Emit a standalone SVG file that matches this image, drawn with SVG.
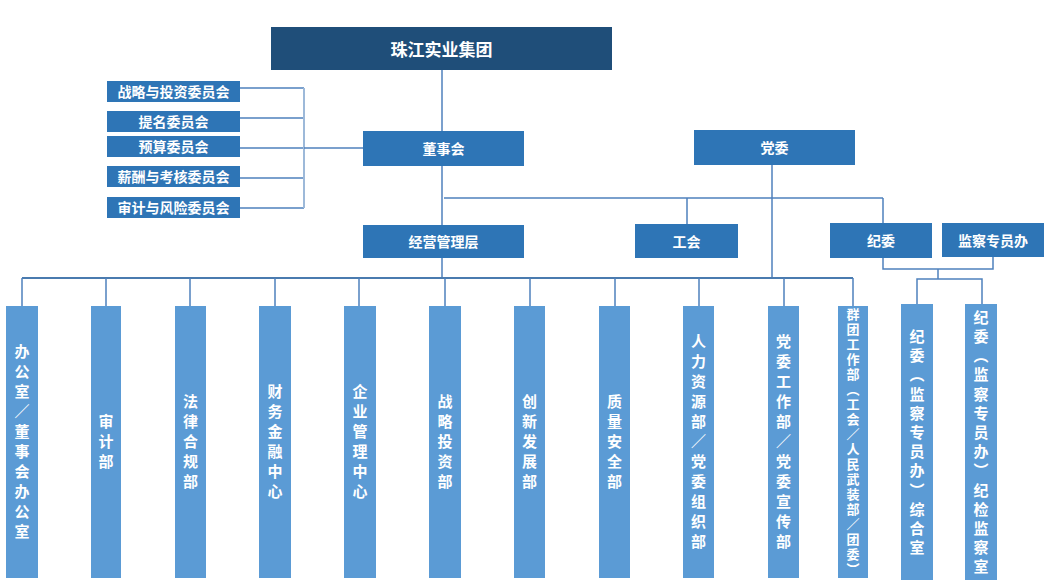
<svg xmlns="http://www.w3.org/2000/svg" width="1050" height="587" viewBox="0 0 1050 587">
<style>
text{font-family:"Noto Sans CJK SC","Noto Sans CJK JP",sans-serif;font-weight:bold;fill:#fff;text-anchor:middle;dominant-baseline:central}
.top{fill:#1F4E79}
.mid{fill:#2E75B6}
.dep{fill:#5B9BD5}
.h{font-size:14px}
.v{font-size:15px;writing-mode:vertical-rl;text-orientation:upright;letter-spacing:5px}
.v2{font-size:15px;writing-mode:vertical-rl;text-orientation:upright;letter-spacing:4.2px}
.vs{font-size:13px;writing-mode:vertical-rl;text-orientation:upright;letter-spacing:2px}
.ln{stroke:#4F81BD;stroke-width:1.5;fill:none}
.lt{stroke:#9DB9D9;stroke-width:2;fill:none}
.bus{stroke:#4A7BAF;stroke-width:2;fill:none}
</style>
<rect width="1050" height="587" fill="#fff"/>
<g id="connectors">
<path class="ln" d="M442 70V131"/>
<path class="ln" d="M240 88H304M240 118H304M240 148H304M240 178H304M240 208H304"/>
<path class="lt" d="M304 88V208"/>
<path class="ln" d="M304 148H363"/>
<path class="ln" d="M442 166V225"/>
<path class="ln" d="M444 198H883M687 198V224M883 198V223"/>
<path class="ln" d="M772 165V278"/>
<path class="ln" d="M442 258V278"/>
<path class="bus" d="M22 278H853"/>
<path class="ln" d="M22 278V306M106 278V306M190 278V306M275 278V306M359 278V306M445 278V306M530 278V306M615 278V306M699 278V306M784 278V306M853 278V306"/>
<path class="ln" d="M883 258V269H993V257M938 269V279M917 304V279H982V304"/>
</g>
<g id="n-group"><rect class="top" x="271" y="27" width="341" height="43"/><text x="441.5" y="48.5" style="font-size:17px">珠江实业集团</text></g>
<g id="n-c1"><rect class="mid" x="107" y="81" width="133" height="21"/><text class="h" x="173.5" y="91">战略与投资委员会</text></g>
<g id="n-c2"><rect class="mid" x="107" y="111" width="133" height="21"/><text class="h" x="173.5" y="121">提名委员会</text></g>
<g id="n-c3"><rect class="mid" x="107" y="136" width="133" height="21"/><text class="h" x="173.5" y="146">预算委员会</text></g>
<g id="n-c4"><rect class="mid" x="107" y="166" width="133" height="21"/><text class="h" x="173.5" y="176">薪酬与考核委员会</text></g>
<g id="n-c5"><rect class="mid" x="107" y="197" width="133" height="21"/><text class="h" x="173.5" y="207">审计与风险委员会</text></g>
<g id="n-board"><rect class="mid" x="363" y="131" width="161" height="35"/><text class="h" x="443.5" y="148">董事会</text></g>
<g id="n-party"><rect class="mid" x="694" y="130" width="161" height="35"/><text class="h" x="774.5" y="147">党委</text></g>
<g id="n-mgmt"><rect class="mid" x="363" y="225" width="161" height="33"/><text class="h" x="443.5" y="241">经营管理层</text></g>
<g id="n-union"><rect class="mid" x="635" y="224" width="103" height="34"/><text class="h" x="686.5" y="240.5">工会</text></g>
<g id="n-disc"><rect class="mid" x="830" y="223" width="102" height="35"/><text class="h" x="881" y="240">纪委</text></g>
<g id="n-super"><rect class="mid" x="942" y="223" width="102" height="34"/><text class="h" x="993" y="239.5">监察专员办</text></g>
<g id="d1"><rect class="dep" x="6" y="306" width="32" height="272"/><text class="v" x="22" y="444">办公室／董事会办公室</text></g>
<g id="d2"><rect class="dep" x="91" y="306" width="30" height="272"/><text class="v" x="106" y="444">审计部</text></g>
<g id="d3"><rect class="dep" x="175" y="306" width="31" height="272"/><text class="v" x="190.5" y="444">法律合规部</text></g>
<g id="d4"><rect class="dep" x="259" y="306" width="32" height="272"/><text class="v" x="275" y="444">财务金融中心</text></g>
<g id="d5"><rect class="dep" x="344" y="306" width="32" height="272"/><text class="v" x="360" y="444">企业管理中心</text></g>
<g id="d6"><rect class="dep" x="429" y="306" width="32" height="272"/><text class="v" x="445" y="444">战略投资部</text></g>
<g id="d7"><rect class="dep" x="514" y="306" width="31" height="272"/><text class="v" x="529.5" y="444">创新发展部</text></g>
<g id="d8"><rect class="dep" x="599" y="306" width="31" height="272"/><text class="v" x="614.5" y="444">质量安全部</text></g>
<g id="d9"><rect class="dep" x="683" y="306" width="31" height="272"/><text class="v" x="698.5" y="444">人力资源部／党委组织部</text></g>
<g id="d10"><rect class="dep" x="768" y="306" width="31" height="272"/><text class="v" x="783.5" y="444">党委工作部／党委宣传部</text></g>
<g id="d11"><rect class="dep" x="838" y="306" width="30" height="272"/><text class="vs" x="853" y="443">群团工作部（工会／人民武装部／团委）</text></g>
<g id="d12"><rect class="dep" x="901" y="304" width="32" height="276"/><text class="v2" x="917" y="444">纪委（监察专员办）综合室</text></g>
<g id="d13"><rect class="dep" x="965" y="304" width="32" height="276"/><text class="v2" x="981" y="444">纪委（监察专员办）纪检监察室</text></g>
</svg>
